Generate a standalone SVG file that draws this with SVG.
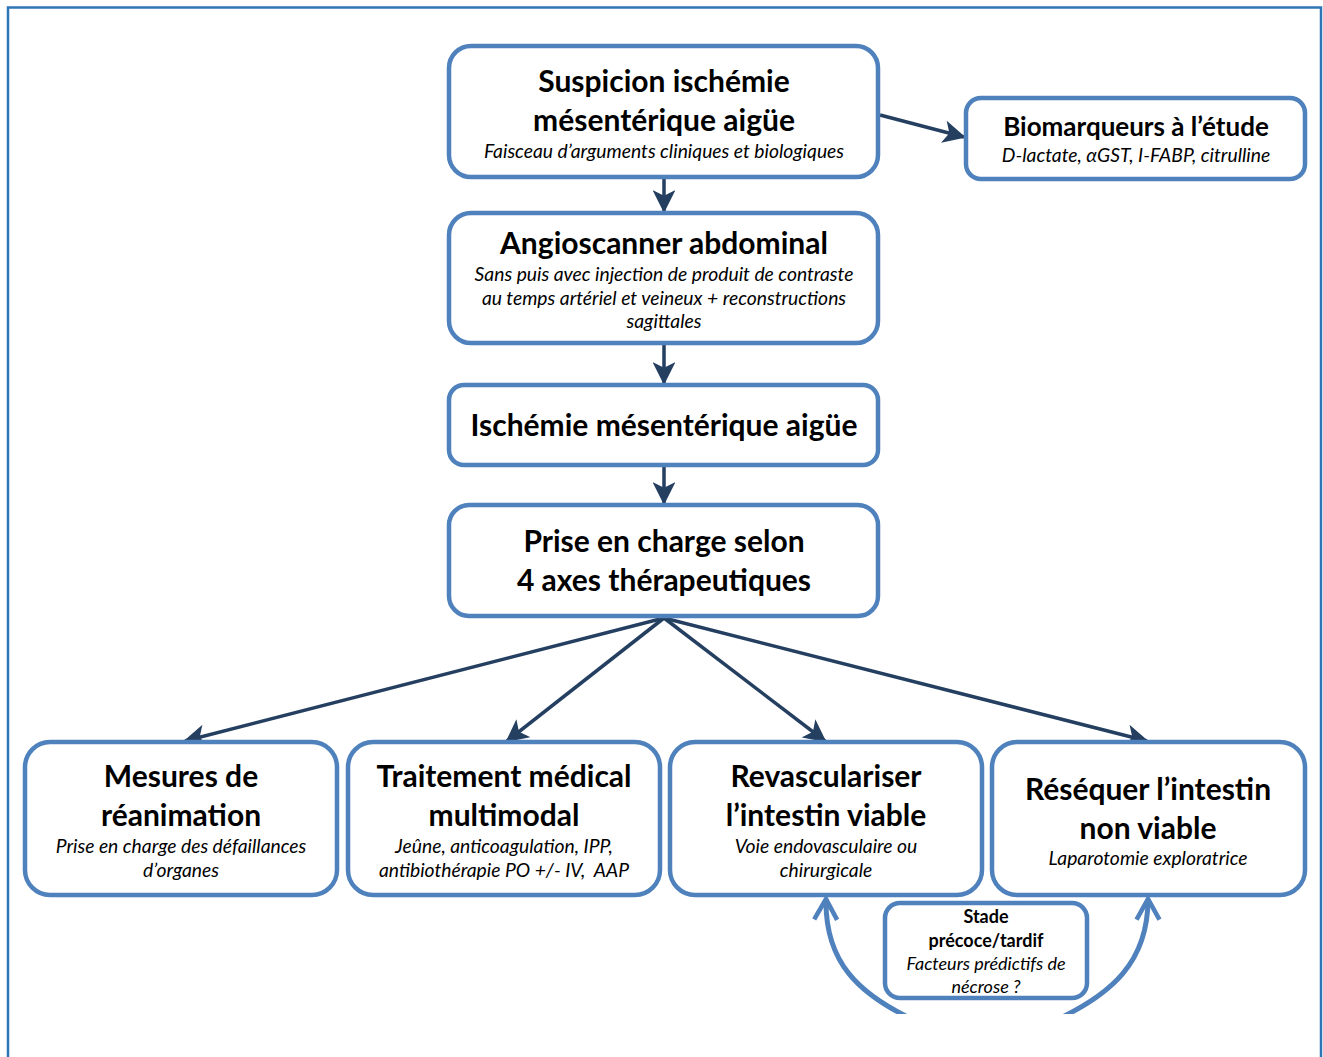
<svg xmlns="http://www.w3.org/2000/svg" width="1323" height="1057" viewBox="0 0 1323 1057">
<defs>
<style>
.box{fill:#fff;stroke:#4f81bd;stroke-width:4.5}
.t{font-family:Lato,"Open Sans","Liberation Sans",sans-serif;font-weight:bold;fill:#000;text-anchor:middle;font-size:30px}
.s{font-family:Lato,"Open Sans","Liberation Sans",sans-serif;font-style:italic;fill:#000;text-anchor:middle;font-size:19.3px}
.st{font-size:18px}
.con{stroke:#243f60;stroke-width:3.5;fill:none}
.cur{stroke:#4f81bd;stroke-width:5;fill:none}
</style>
<marker id="ah" viewBox="0 0 12 12" refX="11" refY="6" markerWidth="6.5" markerHeight="6.5" orient="auto" markerUnits="strokeWidth">
<path d="M0,0 L12,6 L0,12 L3,6 Z" fill="#243f60"/>
</marker>
<marker id="ch" viewBox="0 0 12 12" refX="10" refY="6" markerWidth="5.5" markerHeight="5.5" orient="auto" markerUnits="strokeWidth">
<path d="M1,1 L10,6 L1,11" fill="none" stroke="#4f81bd" stroke-width="2" stroke-linejoin="miter"/>
</marker>
<clipPath id="clipB"><rect x="0" y="0" width="1323" height="1014"/></clipPath>
</defs>
<rect x="0" y="0" width="1323" height="1057" fill="#fff"/>
<path d="M8,1070 L8,7.5 L1321,7.5 L1321,1070" fill="none" stroke="#2e75b6" stroke-width="2.5"/>

<g id="connectors">
<line class="con" x1="664" y1="179" x2="664" y2="211" marker-end="url(#ah)"/>
<line class="con" x1="880" y1="115" x2="964" y2="137" marker-end="url(#ah)"/>
<line class="con" x1="664" y1="345" x2="664" y2="383" marker-end="url(#ah)"/>
<line class="con" x1="664" y1="467" x2="664" y2="503" marker-end="url(#ah)"/>
<line class="con" x1="664" y1="618" x2="185" y2="741" marker-end="url(#ah)"/>
<line class="con" x1="664" y1="618" x2="507" y2="741" marker-end="url(#ah)"/>
<line class="con" x1="664" y1="618" x2="825" y2="741" marker-end="url(#ah)"/>
<line class="con" x1="664" y1="618" x2="1147" y2="741" marker-end="url(#ah)"/>
<g clip-path="url(#clipB)">
<path class="cur" d="M925,1025 C855,995 825,960 826,899" marker-end="url(#ch)"/>
<path class="cur" d="M1045,1025 C1115,995 1148,960 1148,899" marker-end="url(#ch)"/>
</g>
</g>

<g id="n-suspicion">
<rect class="box" x="449" y="46" width="429" height="131" rx="22"/>
<text class="t" x="664" y="92">Suspicion ischémie</text>
<text class="t" x="664" y="131">mésentérique aigüe</text>
<text class="s" x="664" y="158">Faisceau d’arguments cliniques et biologiques</text>
</g>
<g id="n-biomarqueurs">
<rect class="box" x="966" y="98" width="339" height="81" rx="15"/>
<text class="t" x="1136" y="136" style="font-size:26px">Biomarqueurs à l’étude</text>
<text class="s" x="1136" y="162">D-lactate, αGST, I-FABP, citrulline</text>
</g>
<g id="n-angioscanner">
<rect class="box" x="449" y="213" width="429" height="130" rx="22"/>
<text class="t" x="664" y="254">Angioscanner abdominal</text>
<text class="s" x="664" y="281">Sans puis avec injection de produit de contraste</text>
<text class="s" x="664" y="305">au temps artériel et veineux + reconstructions</text>
<text class="s" x="664" y="328">sagittales</text>
</g>
<g id="n-ischemie">
<rect class="box" x="449" y="385" width="429" height="80" rx="15"/>
<text class="t" x="664" y="436">Ischémie mésentérique aigüe</text>
</g>
<g id="n-prise">
<rect class="box" x="449" y="505" width="429" height="111" rx="20"/>
<text class="t" x="664" y="552">Prise en charge selon</text>
<text class="t" x="664" y="591">4 axes thérapeutiques</text>
</g>
<g id="n-mesures">
<rect class="box" x="25" y="742" width="312" height="153" rx="25"/>
<text class="t" x="181" y="787">Mesures de</text>
<text class="t" x="181" y="826">réanimation</text>
<text class="s" x="181" y="853">Prise en charge des défaillances</text>
<text class="s" x="181" y="877">d’organes</text>
</g>
<g id="n-traitement">
<rect class="box" x="348" y="742" width="312" height="153" rx="25"/>
<text class="t" x="504" y="787">Traitement médical</text>
<text class="t" x="504" y="826">multimodal</text>
<text class="s" x="504" y="853">Jeûne, anticoagulation, IPP,</text>
<text class="s" x="504" y="877" xml:space="preserve">antibiothérapie PO +/- IV,  AAP</text>
</g>
<g id="n-revasculariser">
<rect class="box" x="670" y="742" width="312" height="153" rx="25"/>
<text class="t" x="826" y="787">Revasculariser</text>
<text class="t" x="826" y="826">l’intestin viable</text>
<text class="s" x="826" y="853">Voie endovasculaire ou</text>
<text class="s" x="826" y="877">chirurgicale</text>
</g>
<g id="n-reséquer">
<rect class="box" x="992" y="742" width="313" height="153" rx="25"/>
<text class="t" x="1148" y="800">Réséquer l’intestin</text>
<text class="t" x="1148" y="839">non viable</text>
<text class="s" x="1148" y="865">Laparotomie exploratrice</text>
</g>
<g id="n-stade">
<rect class="box" x="885" y="903" width="202" height="95" rx="15"/>
<text class="t st" x="986" y="923">Stade</text>
<text class="t st" x="986" y="947">précoce/tardif</text>
<text class="s st" x="986" y="970">Facteurs prédictifs de</text>
<text class="s st" x="986" y="993">nécrose ?</text>
</g>
</svg>
